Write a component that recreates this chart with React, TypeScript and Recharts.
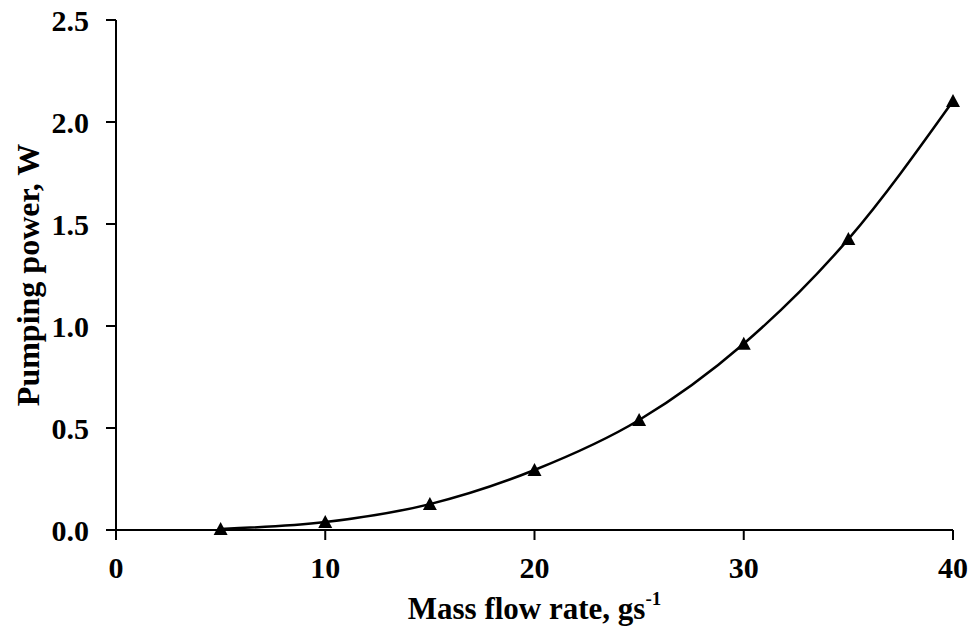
import { LineChart, Line, XAxis, YAxis } from "recharts";

const massFlow = [5, 10, 15, 20, 25, 30, 35, 40];
const pumpingPower = [0.005, 0.039, 0.127, 0.294, 0.539, 0.913, 1.426, 2.103];
const xTicks = [0, 10, 20, 30, 40];
const yTicks = [0, 0.5, 1.0, 1.5, 2.0, 2.5];

const data = massFlow.map((m, i) => ({ m, p: pumpingPower[i] }));

const FONT = "'Liberation Serif', 'Times New Roman', serif";

const Triangle = (props: any) => {
  const { cx, cy } = props;
  if (cx == null || cy == null) return null;
  return <polygon points={`${cx},${cy - 7} ${cx - 7},${cy + 6} ${cx + 7},${cy + 6}`} fill="#000" />;
};

const YTitle = (props: any) => {
  const vb = props.viewBox || { x: 0, y: 0, height: 0 };
  const x = 39;
  const y = vb.y + vb.height / 2;
  return (
    <text x={x} y={y} transform={`rotate(-90 ${x} ${y})`} textAnchor="middle" fontFamily={FONT} fontWeight="bold" fontSize={32} fill="#000">
      Pumping power, W
    </text>
  );
};

const XTitle = (props: any) => {
  const vb = props.viewBox || { x: 0, y: 0, width: 0 };
  return (
    <text x={vb.x + vb.width / 2} y={vb.y + 89} textAnchor="middle" fontFamily={FONT} fontWeight="bold" fontSize={31} fill="#000">
      Mass flow rate, gs<tspan dy={-14} fontSize={19}>-1</tspan>
    </text>
  );
};

export default function App() {
  return (
    <div style={{ position: "absolute", left: 0, top: 0, width: 977, height: 629, background: "#fff" }}>
      <LineChart width={977} height={629} data={data} margin={{ top: 20, right: 24, bottom: 0, left: 0 }}>
        <XAxis
          dataKey="m"
          type="number"
          domain={[0, 40]}
          ticks={xTicks}
          height={99}
          axisLine={{ stroke: "#000", strokeWidth: 2 }}
          tickLine={{ stroke: "#000", strokeWidth: 2 }}
          tickSize={10}
          tickMargin={17}
          tick={{ fill: "#000", fontSize: 30, fontWeight: "bold", fontFamily: FONT }}
          label={<XTitle />}
        />
        <YAxis
          type="number"
          domain={[0, 2.5]}
          ticks={yTicks}
          width={116}
          axisLine={{ stroke: "#000", strokeWidth: 2 }}
          tickLine={{ stroke: "#000", strokeWidth: 2 }}
          tickSize={10}
          tickMargin={17}
          tickFormatter={(v: number) => v.toFixed(1)}
          tick={{ fill: "#000", fontSize: 30, fontWeight: "bold", fontFamily: FONT }}
          label={<YTitle />}
        />
        <Line dataKey="p" type="monotone" stroke="#000" strokeWidth={2.5} dot={<Triangle />} activeDot={false} isAnimationActive={false} />
      </LineChart>
    </div>
  );
}
